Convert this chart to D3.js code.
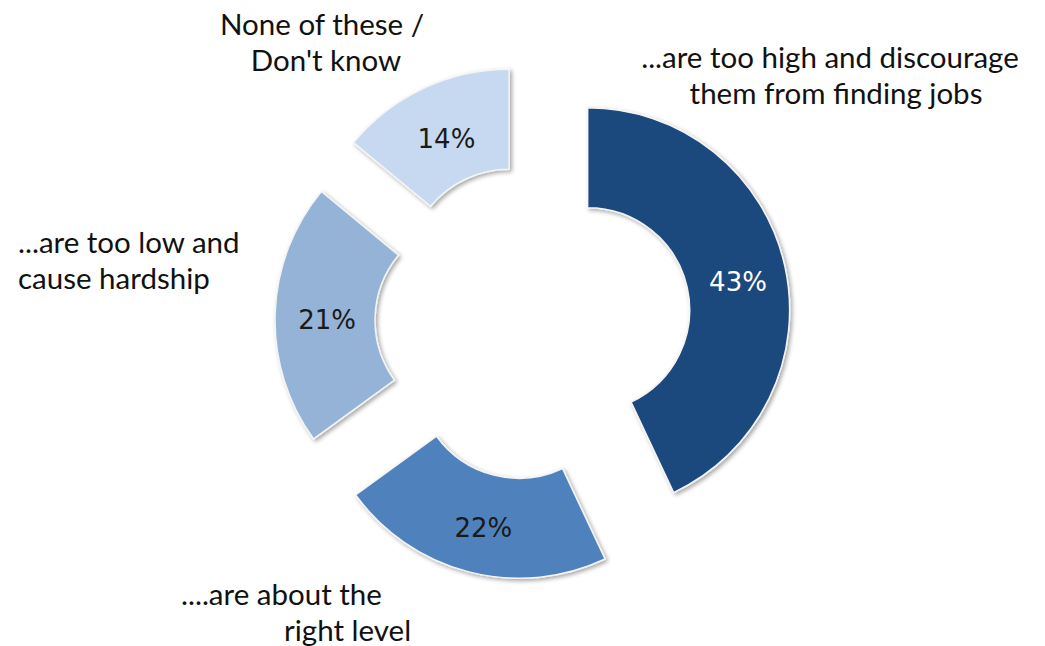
<!DOCTYPE html>
<html>
<head>
<meta charset="utf-8">
<script src="https://cdn.jsdelivr.net/npm/d3@7"></script>
<style>
  html, body { margin: 0; padding: 0; background: #ffffff; }
  svg { display: block; }
</style>
</head>
<body>
<svg id="chart" width="1045" height="646"></svg>
<script>
// Opinion shares, clockwise from 12 o'clock
const categories = [
  "...are too high and discourage them from finding jobs",
  "....are about the right level",
  "...are too low and cause hardship",
  "None of these / Don't know"
];
const values = [43, 22, 21, 14];
const valueLabels = ["43%", "22%", "21%", "14%"];
const colors = ["#1f497d", "#4f81bd", "#95b3d7", "#c6d9f1"];
const labelColors = ["#ffffff", "#1a1a1a", "#1a1a1a", "#1a1a1a"];

// Category captions, broken into the lines they are shown on
const captionLines = [
  ["...are too high and discourage", "them from finding jobs"],
  ["....are about the", "right level"],
  ["...are too low and", "cause hardship"],
  ["None of these /", "Don't know"]
];

const W = 1045, H = 646;
const cx = 533, cy = 322;
const outerR = 202, innerR = 102, explode = 56;

const svg = d3.select("#chart");

const defs = svg.append("defs");
const shadow = defs.append("filter")
  .attr("id", "softShadow")
  .attr("x", "-20%").attr("y", "-20%")
  .attr("width", "140%").attr("height", "140%");
shadow.append("feDropShadow")
  .attr("dx", 2).attr("dy", 2)
  .attr("stdDeviation", 2)
  .attr("flood-color", "#000")
  .attr("flood-opacity", 0.35);

const pie = d3.pie().sort(null).value(d => d).startAngle(0).endAngle(2 * Math.PI);
const arc = d3.arc().innerRadius(innerR).outerRadius(outerR);
const color = d3.scaleOrdinal().domain(d3.range(values.length)).range(colors);

const arcs = pie(values);

function offsetOf(d) {
  const mid = (d.startAngle + d.endAngle) / 2;
  return [Math.sin(mid) * explode, -Math.cos(mid) * explode];
}

const g = svg.append("g").attr("transform", `translate(${cx},${cy})`);

const slices = g.selectAll("g.slice")
  .data(arcs)
  .join("g")
  .attr("class", "slice")
  .attr("transform", d => {
    const [ox, oy] = offsetOf(d);
    return `translate(${ox},${oy})`;
  });

slices.append("path")
  .attr("d", arc)
  .attr("fill", (d, i) => color(i))
  .attr("stroke", "#f4f4f4")
  .attr("stroke-width", 1.5)
  .attr("filter", "url(#softShadow)");

// Value labels sit at the ring's centroid, nudged slightly down
slices.append("text")
  .attr("transform", d => {
    const [x, y] = arc.centroid(d);
    return `translate(${x + 2},${y + 5})`;
  })
  .attr("text-anchor", "middle")
  .attr("dominant-baseline", "central")
  .attr("font-family", "DejaVu Sans, Verdana, sans-serif")
  .attr("font-size", 26)
  .attr("fill", (d, i) => labelColors[i])
  .text((d, i) => valueLabels[i]);

// Caption placement: per-line anchor x and first baseline
const captionLayout = [
  { xs: [830, 836], anchor: "middle", y: 68 },
  { xs: [181, 284], anchor: "start", y: 605 },
  { xs: [18, 18], anchor: "start", y: 253 },
  { xs: [322, 326], anchor: "middle", y: 35 }
];
const lineGap = 36;

const captions = svg.append("g").attr("class", "captions")
  .selectAll("text")
  .data(captionLines)
  .join("text")
  .attr("font-family", "Lato, 'Open Sans', sans-serif")
  .attr("font-size", 29.5)
  .attr("fill", "#111111")
  .attr("text-anchor", (d, i) => captionLayout[i].anchor);

captions.selectAll("tspan")
  .data((lines, i) => lines.map((t, j) => ({ t, j, i })))
  .join("tspan")
  .attr("x", d => captionLayout[d.i].xs[d.j])
  .attr("y", d => captionLayout[d.i].y + d.j * lineGap)
  .text(d => d.t);
</script>
</body>
</html>
